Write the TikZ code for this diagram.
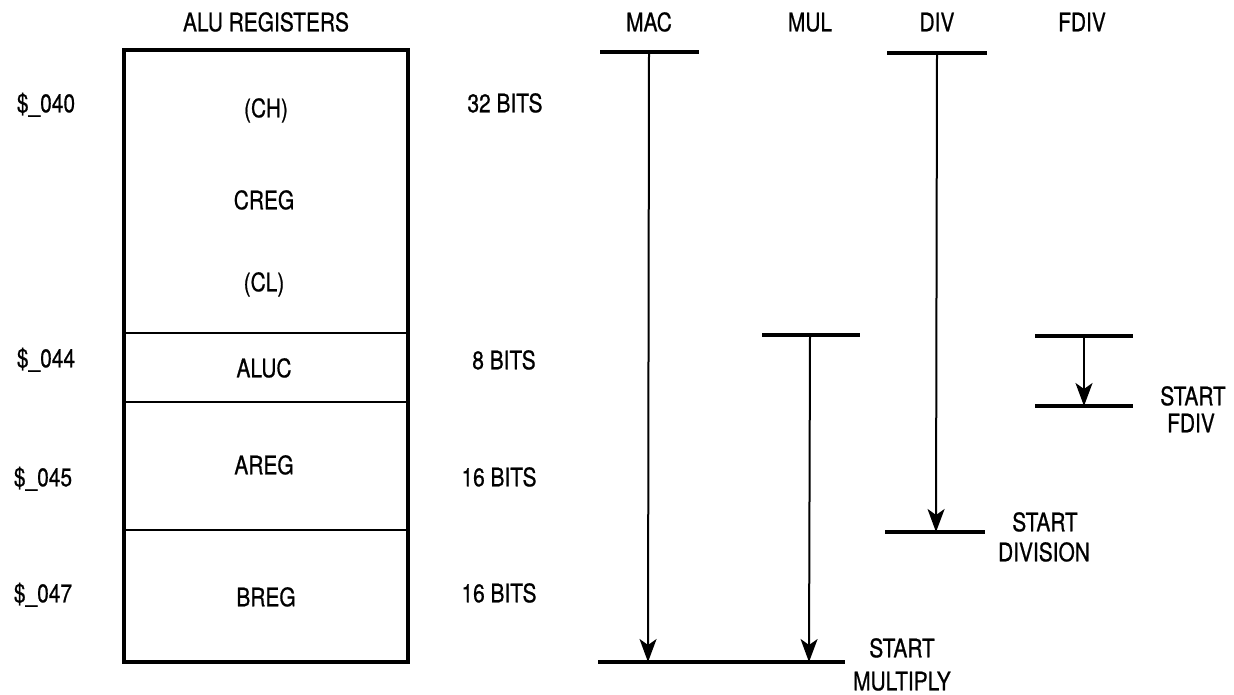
\documentclass[tikz,border=0pt]{standalone}
\usepackage{fontspec}
\setmainfont{TeX Gyre Heros}[FakeStretch=0.82,FakeBold=0.7]
\usetikzlibrary{arrows.meta}
\begin{document}
\begin{tikzpicture}[x=1pt,y=-1pt,
  lbl/.style={inner sep=0pt, anchor=center, text height=18.5pt, text depth=0pt,
              font=\fontsize{25.5}{30}\selectfont},
  regbox/.style={line width=3.3pt},
  divline/.style={line width=2.1pt},
  bar/.style={line width=3.8pt},
  flow/.style={line width=2pt, -{Stealth[length=23pt,width=17pt,inset=6pt]}}]
\useasboundingbox (0,0) rectangle (1234,694);

% register block
\coordinate (boxNW) at (124,50);
\coordinate (boxSE) at (408,662);
\draw[regbox] (boxNW) rectangle (boxSE);
\coordinate (d1l) at (124,333); \coordinate (d1r) at (408,333);
\coordinate (d2l) at (124,402); \coordinate (d2r) at (408,402);
\coordinate (d3l) at (124,530); \coordinate (d3r) at (408,530);
\draw[divline] (d1l) -- (d1r);
\draw[divline] (d2l) -- (d2r);
\draw[divline] (d3l) -- (d3r);

\node[lbl] (title) at (266,22) {ALU REGISTERS};
\node[lbl] (a040) at (46,103) {\$\_040};
\node[lbl] (ch) at (266,108) {(CH)};
\node[lbl] (b32) at (505,103) {32 BITS};
\node[lbl] (creg) at (264,200) {CREG};
\node[lbl] (cl) at (264,282) {(CL)};
\node[lbl] (a044) at (46,358) {\$\_044};
\node[lbl] (aluc) at (264,368) {ALUC};
\node[lbl] (b8) at (504,360) {8 BITS};
\node[lbl] (a045) at (43,477) {\$\_045};
\node[lbl] (areg) at (264,465) {AREG};
\node[lbl] (b16a) at (499,477) {16 BITS};
\node[lbl] (a047) at (43,593) {\$\_047};
\node[lbl] (breg) at (266,597) {BREG};
\node[lbl] (b16b) at (499,593) {16 BITS};

% operation headers
\node[lbl] (mac) at (649,22) {MAC};
\node[lbl] (mul) at (810,22) {MUL};
\node[lbl] (div) at (937,22) {DIV};
\node[lbl] (fdiv) at (1082,22) {FDIV};

% bars
\coordinate (macL) at (600,52);  \coordinate (macR) at (699,52);  \coordinate (macT) at (649,52);
\coordinate (divL) at (887,53);  \coordinate (divR) at (987,53);  \coordinate (divT) at (937,53);
\coordinate (mulL) at (762,335); \coordinate (mulR) at (860,335); \coordinate (mulT) at (810,335);
\coordinate (fdL) at (1035,336); \coordinate (fdR) at (1133,336); \coordinate (fdT) at (1084,336);
\coordinate (fdbL) at (1035,406); \coordinate (fdbR) at (1133,406); \coordinate (fdB) at (1084,406);
\coordinate (dvbL) at (885,532); \coordinate (dvbR) at (985,532); \coordinate (dvB) at (936,532);
\coordinate (mbL) at (598,662); \coordinate (mbR) at (845,662);
\coordinate (macB) at (648,662); \coordinate (mulB) at (809,662);

\draw[bar] (macL) -- (macR);
\draw[bar] (divL) -- (divR);
\draw[bar] (mulL) -- (mulR);
\draw[bar] (fdL) -- (fdR);
\draw[bar] (fdbL) -- (fdbR);
\draw[bar] (dvbL) -- (dvbR);
\draw[bar] (mbL) -- (mbR);

\draw[flow] (macT) -- (macB);
\draw[flow] (mulT) -- (mulB);
\draw[flow] (divT) -- (dvB);
\draw[flow] (fdT) -- (fdB);

% result labels
\node[lbl] (sf1) at (1193,396) {START};
\node[lbl] (sf2) at (1191,423) {FDIV};
\node[lbl] (sd1) at (1045,522) {START};
\node[lbl] (sd2) at (1044,552) {DIVISION};
\node[lbl] (sm1) at (902,648) {START};
\node[lbl] (sm2) at (902,681) {MULTIPLY};
\end{tikzpicture}
\end{document}
